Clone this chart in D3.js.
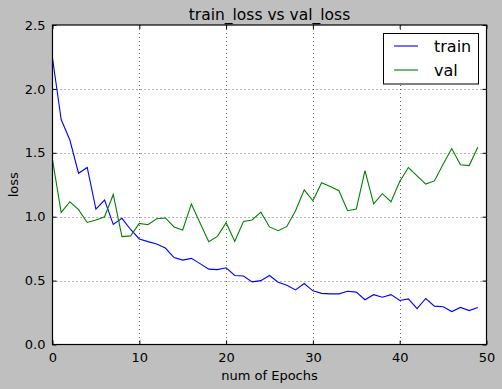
<!DOCTYPE html>
<html>
<head>
<meta charset="utf-8">
<script src="https://cdn.jsdelivr.net/npm/d3@7"></script>
<style>
  html, body { margin: 0; padding: 0; background: #bfbfbf; }
  svg { display: block; font-family: "DejaVu Sans", sans-serif; }
</style>
</head>
<body>
<script>
var epochs = d3.range(0, 50);
var trainLoss = [2.24, 1.76, 1.60, 1.34, 1.385, 1.06, 1.13, 0.94, 0.987, 0.90,
  0.826, 0.805, 0.787, 0.755, 0.68, 0.66, 0.674, 0.633, 0.59, 0.586,
  0.60, 0.54, 0.536, 0.49, 0.50, 0.54, 0.487, 0.463, 0.427, 0.477,
  0.42, 0.40, 0.396, 0.396, 0.417, 0.41, 0.35, 0.39, 0.37, 0.39,
  0.344, 0.357, 0.28, 0.36, 0.30, 0.295, 0.258, 0.29, 0.265, 0.29];
var valLoss = [1.445, 1.034, 1.117, 1.055, 0.955, 0.974, 1.00, 1.174, 0.844, 0.85,
  0.948, 0.937, 0.984, 0.99, 0.92, 0.896, 1.10, 0.95, 0.805, 0.846,
  0.953, 0.807, 0.963, 0.974, 1.036, 0.92, 0.89, 0.924, 1.047, 1.21,
  1.125, 1.266, 1.237, 1.203, 1.047, 1.06, 1.36, 1.10, 1.18, 1.117,
  1.275, 1.385, 1.32, 1.255, 1.28, 1.41, 1.533, 1.406, 1.40, 1.544];
var xTicks = [0, 10, 20, 30, 40, 50];
var yTicks = [0.0, 0.5, 1.0, 1.5, 2.0, 2.5];
var seriesNames = ['train', 'val'];
var seriesColors = ['#0000ff', '#008000'];

var svgWidth = 502, svgHeight = 389;
var pLeft = 52.5, pRight = 486.5, pTop = 25, pBottom = 344.5;

var svg = d3.select('body').append('svg').attr('width', svgWidth).attr('height', svgHeight);

var x = d3.scaleLinear().domain([0, 50]).range([pLeft, pRight]);
var y = d3.scaleLinear().domain([0, 2.5]).range([pBottom, pTop]);

svg.append('rect').attr('x', pLeft).attr('y', pTop)
  .attr('width', pRight - pLeft).attr('height', pBottom - pTop).attr('fill', '#fff');

// grid
svg.append('g').selectAll('line').data(xTicks.slice(1, -1)).enter().append('line')
  .attr('x1', function (d) { return Math.round(x(d)) + 0.5; })
  .attr('x2', function (d) { return Math.round(x(d)) + 0.5; })
  .attr('y1', pTop).attr('y2', pBottom)
  .attr('stroke', '#000').attr('stroke-width', 0.6).attr('stroke-dasharray', '1,3');
svg.append('g').selectAll('line').data(yTicks.slice(1, -1)).enter().append('line')
  .attr('y1', function (d) { return Math.round(y(d)) + 0.5; })
  .attr('y2', function (d) { return Math.round(y(d)) + 0.5; })
  .attr('x1', pLeft).attr('x2', pRight)
  .attr('stroke', '#000').attr('stroke-width', 0.6).attr('stroke-dasharray', '1,3');

// lines
var series = [trainLoss, valLoss];
var line = d3.line().x(function (d, i) { return x(epochs[i]); }).y(function (d) { return y(d); });
svg.append('g').selectAll('path').data(series).enter().append('path')
  .attr('d', line).attr('fill', 'none')
  .attr('stroke', function (d, i) { return seriesColors[i]; })
  .attr('stroke-width', 1.1);

// axes with inward ticks
var xAxis = svg.append('g').attr('transform', 'translate(0,' + pBottom + ')')
  .call(d3.axisBottom(x).tickValues(xTicks).tickFormat(d3.format('d')).tickSizeInner(-4).tickSizeOuter(0).tickPadding(8));
var xAxisTop = svg.append('g').attr('transform', 'translate(0,' + pTop + ')')
  .call(d3.axisTop(x).tickValues(xTicks).tickFormat('').tickSizeInner(-4).tickSizeOuter(0));
var yAxis = svg.append('g').attr('transform', 'translate(' + pLeft + ',0)')
  .call(d3.axisLeft(y).tickValues(yTicks).tickFormat(d3.format('.1f')).tickSizeInner(-4).tickSizeOuter(0).tickPadding(7));
var yAxisRight = svg.append('g').attr('transform', 'translate(' + pRight + ',0)')
  .call(d3.axisRight(y).tickValues(yTicks).tickFormat('').tickSizeInner(-4).tickSizeOuter(0));
[xAxis, xAxisTop, yAxis, yAxisRight].forEach(function (g) {
  g.select('.domain').remove();
  g.selectAll('text').attr('font-size', 13).attr('fill', '#000').attr('font-family', 'DejaVu Sans');
  g.selectAll('line').attr('stroke', '#000');
});

svg.append('rect').attr('x', pLeft).attr('y', pTop)
  .attr('width', pRight - pLeft).attr('height', pBottom - pTop)
  .attr('fill', 'none').attr('stroke', '#000').attr('stroke-width', 1.2);

// title and labels
svg.append('text').attr('x', (pLeft + pRight) / 2).attr('y', 20).attr('text-anchor', 'middle')
  .attr('font-size', 15.5).text('train_loss vs val_loss');
svg.append('text').attr('x', (pLeft + pRight) / 2).attr('y', 380).attr('text-anchor', 'middle')
  .attr('font-size', 13).text('num of Epochs');
svg.append('text').attr('transform', 'translate(18,' + ((pTop + pBottom) / 2) + ') rotate(-90)')
  .attr('text-anchor', 'middle').attr('font-size', 13).text('loss');

// legend
var legend = svg.append('g');
legend.append('rect').attr('x', 383.5).attr('y', 33.5).attr('width', 95).attr('height', 50.5)
  .attr('fill', '#fff').attr('stroke', '#000').attr('stroke-width', 1);
var items = legend.selectAll('g').data(seriesNames).enter().append('g')
  .attr('transform', function (d, i) { return 'translate(0,' + (46 + i * 24) + ')'; });
items.append('line').attr('x1', 394).attr('x2', 418).attr('y1', 0).attr('y2', 0)
  .attr('stroke', function (d, i) { return seriesColors[i]; }).attr('stroke-width', 1.1);
items.append('text').attr('x', 434).attr('y', 6).attr('font-size', 16).text(function (d) { return d; });
</script>
</body>
</html>
